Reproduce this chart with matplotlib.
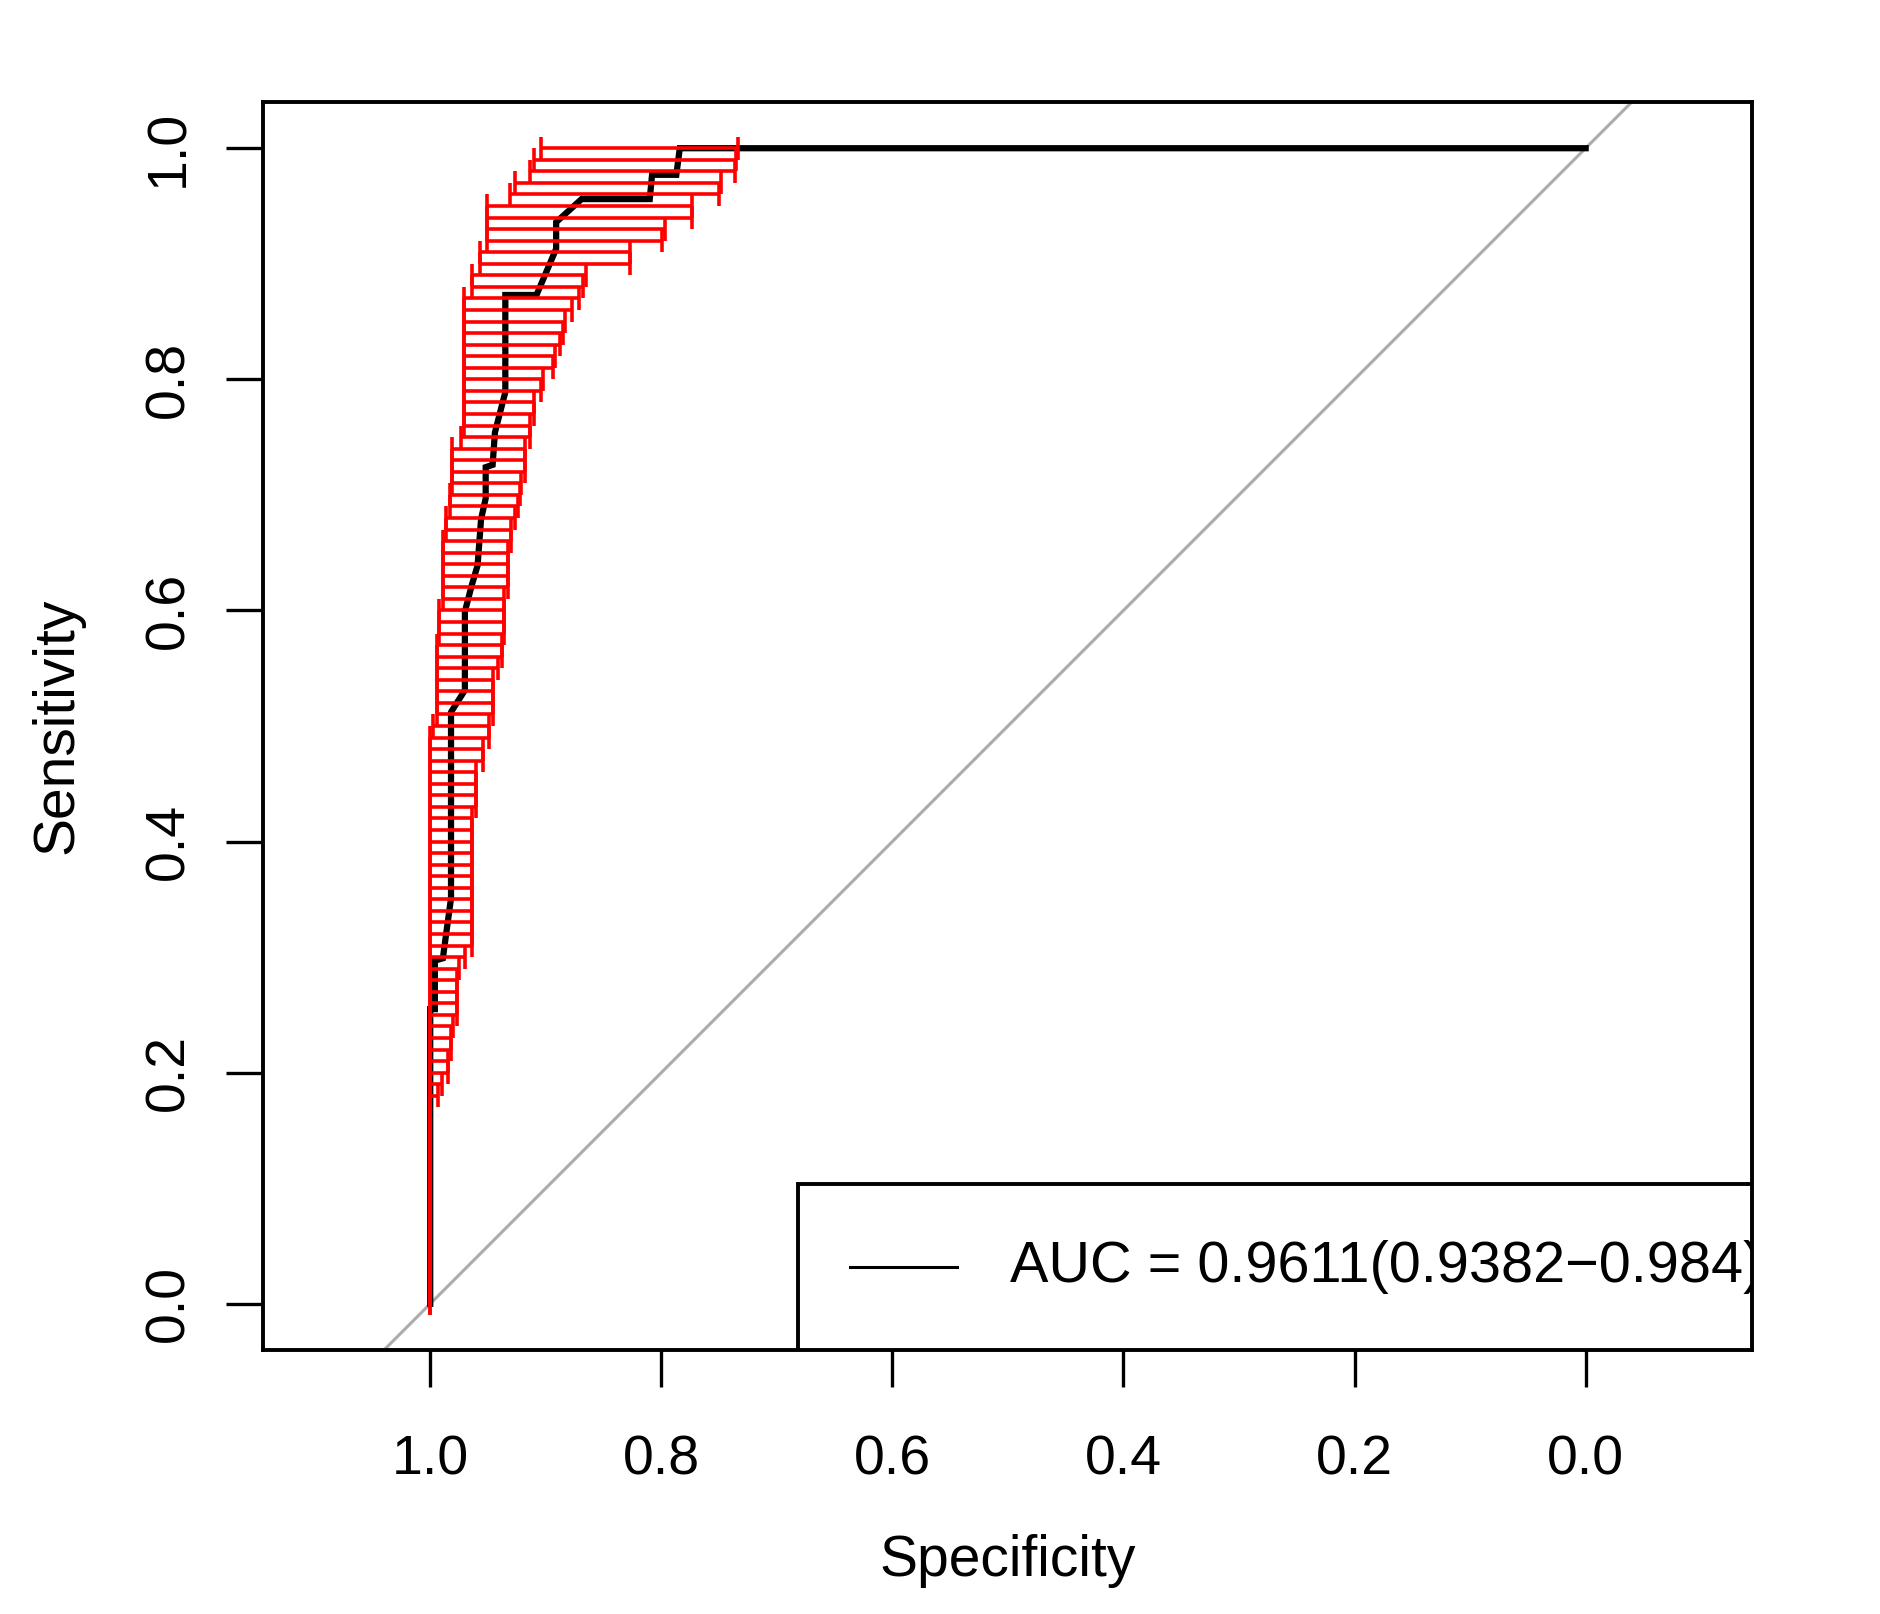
import matplotlib
matplotlib.use('Agg')
import matplotlib.pyplot as plt
from matplotlib.patches import Rectangle

plt.rcParams['font.family'] = ['Liberation Sans', 'DejaVu Sans']

# ---- ROC curve (specificity, sensitivity) ----
roc_spec = [0.0, 0.784, 0.787, 0.808, 0.810, 0.869, 0.891, 0.891, 0.908, 0.935,
            0.935, 0.944, 0.946, 0.952, 0.952, 0.956, 0.959, 0.964, 0.970, 0.970,
            0.982, 0.982, 0.988, 0.989, 0.996, 0.996, 1.0, 1.0]
roc_sens = [1.0, 1.0, 0.977, 0.977, 0.956, 0.956, 0.936, 0.913, 0.873, 0.873,
            0.789, 0.754, 0.726, 0.724, 0.697, 0.679, 0.639, 0.622, 0.599, 0.531,
            0.512, 0.351, 0.307, 0.299, 0.297, 0.255, 0.255, 0.0]

# ---- CI of specificity at fixed sensitivities ----
ci_sens = [1.00, 0.99, 0.98, 0.97, 0.96, 0.95, 0.94, 0.93, 0.92, 0.91,
           0.90, 0.89, 0.88, 0.87, 0.86, 0.85, 0.84, 0.83, 0.82, 0.81,
           0.80, 0.79, 0.78, 0.77, 0.76, 0.75, 0.74, 0.73, 0.72, 0.71,
           0.70, 0.69, 0.68, 0.67, 0.66, 0.65, 0.64, 0.63, 0.62, 0.61,
           0.60, 0.59, 0.58, 0.57, 0.56, 0.55, 0.54, 0.53, 0.52, 0.51,
           0.50, 0.49, 0.48, 0.47, 0.46, 0.45, 0.44, 0.43, 0.42, 0.41,
           0.40, 0.39, 0.38, 0.37, 0.36, 0.35, 0.34, 0.33, 0.32, 0.31,
           0.30, 0.29, 0.28, 0.27, 0.26, 0.25, 0.24, 0.23, 0.22, 0.21,
           0.20, 0.19, 0.18, 0.17, 0.16, 0.15, 0.14, 0.13, 0.12, 0.11,
           0.10, 0.09, 0.08, 0.07, 0.06, 0.05, 0.04, 0.03, 0.02, 0.01,
           0.00]
ci_spec_low = [0.734, 0.735, 0.736, 0.748, 0.750, 0.773, 0.773, 0.797, 0.799, 0.827,
               0.827, 0.865, 0.868, 0.871, 0.877, 0.883, 0.885, 0.888, 0.892, 0.894,
               0.902, 0.904, 0.910, 0.910, 0.914, 0.914, 0.918, 0.918, 0.918, 0.921,
               0.922, 0.924, 0.927, 0.930, 0.930, 0.933, 0.933, 0.933, 0.933, 0.936,
               0.936, 0.936, 0.936, 0.938, 0.938, 0.941, 0.946, 0.946, 0.946, 0.946,
               0.949, 0.949, 0.954, 0.954, 0.960, 0.960, 0.960, 0.960, 0.964, 0.964,
               0.964, 0.964, 0.964, 0.964, 0.964, 0.964, 0.964, 0.964, 0.964, 0.964,
               0.970, 0.975, 0.977, 0.977, 0.977, 0.977, 0.980, 0.982, 0.982, 0.985,
               0.985, 0.990, 0.993, 1.0, 1.0, 1.0, 1.0, 1.0, 1.0, 1.0,
               1.0, 1.0, 1.0, 1.0, 1.0, 1.0, 1.0, 1.0, 1.0, 1.0,
               1.0]
ci_spec_high = [0.904, 0.910, 0.914, 0.927, 0.931, 0.951, 0.951, 0.951, 0.951, 0.957,
                0.957, 0.964, 0.964, 0.971, 0.971, 0.971, 0.971, 0.971, 0.971, 0.971,
                0.971, 0.971, 0.971, 0.971, 0.971, 0.973, 0.981, 0.981, 0.981, 0.981,
                0.983, 0.983, 0.986, 0.986, 0.989, 0.989, 0.989, 0.989, 0.989, 0.989,
                0.992, 0.992, 0.992, 0.994, 0.994, 0.994, 0.994, 0.994, 0.994, 0.994,
                0.9975, 1.0, 1.0, 1.0, 1.0, 1.0, 1.0, 1.0, 1.0, 1.0,
                1.0, 1.0, 1.0, 1.0, 1.0, 1.0, 1.0, 1.0, 1.0, 1.0,
                1.0, 1.0, 1.0, 1.0, 1.0, 1.0, 1.0, 1.0, 1.0, 1.0,
                1.0, 1.0, 1.0, 1.0, 1.0, 1.0, 1.0, 1.0, 1.0, 1.0,
                1.0, 1.0, 1.0, 1.0, 1.0, 1.0, 1.0, 1.0, 1.0, 1.0,
                1.0]

tick_values = [1.0, 0.8, 0.6, 0.4, 0.2, 0.0]
x_tick_labels = ['1.0', '0.8', '0.6', '0.4', '0.2', '0.0']
y_tick_values = [0.0, 0.2, 0.4, 0.6, 0.8, 1.0]
y_tick_labels = ['0.0', '0.2', '0.4', '0.6', '0.8', '1.0']
legend_label = 'AUC = 0.9611(0.9382\u22120.984)'

fig = plt.figure(figsize=(18.8, 16.14), dpi=100)
ax = fig.add_axes([0.13973, 0.16357, 0.79218, 0.77323])
ax.set_xlim(1.145, -0.144)
ax.set_ylim(-0.04, 1.04)

# diagonal
ax.axline((1.0, 0.0), (0.0, 1.0), color='#ABABAB', lw=2.2, zorder=1)

# ROC curve
ax.plot(roc_spec, roc_sens, color='black', lw=4.5, zorder=2, solid_joinstyle='miter')

# CI bars (drawn on top of the curve)
bar_half = 0.01
ax.hlines(ci_sens, ci_spec_low, ci_spec_high, color='red', lw=2.6, zorder=3)
ax.vlines(ci_spec_low, [s - bar_half for s in ci_sens], [s + bar_half for s in ci_sens],
          color='red', lw=2.6, zorder=3)
ax.vlines(ci_spec_high, [s - bar_half for s in ci_sens], [s + bar_half for s in ci_sens],
          color='red', lw=2.6, zorder=3)

# axes styling
for sp in ax.spines.values():
    sp.set_linewidth(2.8)
    sp.set_color('black')
ax.set_xticks(tick_values, x_tick_labels)
ax.set_yticks(y_tick_values, y_tick_labels, rotation=90, va='center')
ax.tick_params(axis='both', direction='out', length=26.6, width=2.4, labelsize=40)
ax.tick_params(axis='x', pad=34)
ax.tick_params(axis='y', pad=22)

ax.set_xlabel('Specificity', fontsize=41)
ax.xaxis.set_label_coords(0.5, -0.169)
ax.xaxis.label.set_va('center')
ax.set_ylabel('Sensitivity', fontsize=41)
ax.yaxis.set_label_coords(-0.1378, 0.5)
ax.yaxis.label.set_va('center')
ax.yaxis.label.set_ha('center')

# legend box (R style, clipped to plot region)
ax.add_patch(Rectangle((0.3594, 0.0), 1 - 0.3594, 0.1332, transform=ax.transAxes,
                       facecolor='white', edgecolor='black', lw=2.8, zorder=5))
ax.plot([0.3946, 0.4660], [0.0668, 0.0668], transform=ax.transAxes,
        color='black', lw=2.2, zorder=6)
ax.text(0.502, 0.0668, legend_label, transform=ax.transAxes, fontsize=41.5,
        va='center', ha='left', clip_on=True, zorder=6)

fig.savefig('out.png', dpi=100, facecolor='white')
